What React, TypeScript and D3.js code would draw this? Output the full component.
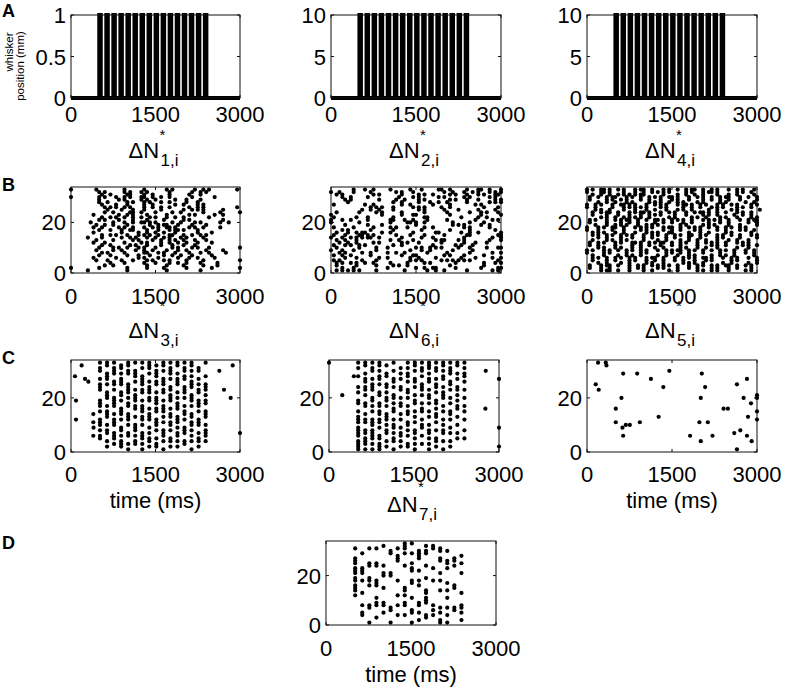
import React from 'react';
import * as d3 from 'd3';

// shared axes
const timeDomain = [0, 3000];
const timeTicks = [0, 1500, 3000];
const neuronDomain = [0, 34];
const neuronTicks = [0, 20];
const topNeuron = 33;

// whisker stimulus (row A)
const whiskerOnsets = [500, 625, 750, 875, 1000, 1125, 1250, 1375, 1500, 1625, 1750, 1875, 2000, 2125, 2250, 2375];
const pulseWidth = 30;
const whiskerMax = [1, 10, 10];
const whiskerTicks = [[0, 0.5, 1], [0, 5, 10], [0, 5, 10]];
const spikeLatency = 15;

// free rasters (row B): one string per neuron, 33 at top; one char per 50 ms bin
const gridStep = 50;
const rasterN3 = [
  'o........o.........o......o.......o.o.......o..o.o.........o',
  '..........o.o......o.o...o.o.......o.......o..o.o............',
  '...........o..o.....oo....o..o.....o......o...o..............',
  'o.........o.o...o..o.o...oo..o..o..o.......o.......o.........',
  '..........o......o.o.....o.o..o......o...o....o..............',
  '..........o..o......o.o...o.o...o..o.....o...o...............',
  '...........o....o...o.....o..o.......o..o....o.o.............',
  '............o.o.o..o.o....o..o..o..o......o..o.o...........o',
  '.............o....o...o...o.....o.......o..o.o.o......o......',
  '............o..o.....oo..o....o.....o..o.......o.....o......o',
  '........o........o..o.o....o......o.......o.o......o..o......',
  '...........o..o.o..o..o..o..o.o...o..o..o........o...........',
  '..........o.o....o....o....o.....o......o.o...........o......',
  '.......o.......o...o..o..oo.o.o.....o..o....o.o......o..o....',
  '.........o..o..o....o.......o..o.oo...o....o....o...........',
  '........o..o.....o.o..o...o..o.o..oo.o....o.o..o.....o......',
  '..........o...o...o..oo....o...o...o.oo.o....o..............',
  '........o.........o.....o..o..o..o...o.......o....o..........',
  '...........o..o.o...o...o.o.o..o...oo...o..o..o.o............',
  '......o....o......o..o.o...o..o..o.o...o.o.....o.............',
  '.........o.....o......o.o....o..o..o.o..o...o...o............',
  '........o...o......o.....o.o....o..o..o..o...o....o..........',
  '...........o..o......o.o...o....o...o...o...o................',
  '..........o....o.o..o...o.o...o.....o.o....o.o...o..........o',
  '.........o.....o..o....o..o..o....o...o..o......o.....o......',
  '...........o.o.....o......oo...o.o...o....o...o..o.....o.....',
  '..........o...o.....o...o...o....o..o..o...o......o..........',
  '........o.......o.......o.o....o......o...o..o.....o.........',
  '.........o...o....o...o....o.o...o.o.....o.....o............o',
  '..............o....o......o...o....o..o..o....o.....o........',
  '............o..o...........o......o.....o......o....o........',
  'o.........o.........o......o.....o.......o........o.........o',
  '......o.............o.............o...........o..............',
];
const rasterN6 = [
  '........o...o..o.....o......o...o.....oo..o.....o...oo..o...o',
  'o..o....o.....o........o.o...o..........o..o...o..o.o...o.o.o',
  '..o.o..........o.o.......o.....o.o..o.....o.o...o...o.o...oo',
  '....o..o.....o..........o....o.o......o.o......o.o......o.o.',
  '.....o.o.........o.....o..o....o.o........o.o...o...o.....o.o',
  '......o...............o..o.....o...o..o..o......o.......o.o.o',
  '.o..........o..o.........o..o.......o.....o........o.o.......',
  '..............o.o.o...o......o.o.o.....o..o...........o....o.',
  '...........o..o..o....o........o.o......o....o......o.....o..',
  '..o.......o.....o.o......o.......o.......o.......o...o.o...o.',
  'o.................o......o...oo...........o..........o......o',
  '.o.......o...o........o..........oo...........o.....o..o.....',
  'o...o..o.....o.......oo...o..o....o......o.........o.....o.o.',
  'o.........o..........o.....oo.o..o.........o.....o....o......',
  '.....o.......o....o...........o............o.o.o.....o..o....',
  '.o......o......o.....o.o...o.....o..o..........o.o......o....',
  '....o.o.......o.......o.........o.........o......o........o..',
  '..o...o..o.oo.....o..o.......o.......oo.......o..o..o.......o',
  '.o...o....oo.o.o.......o....o....o......o.......oo.........oo',
  'o...o..o.o.o.oo..o.......o......o...o..........o.........o..o',
  '..o..o...o...........o..o....o.......o.oo....o.o........o...o',
  '...o..o..o.....o.o.......o.o...o.......o.......o...o...o.....',
  '.o...o.o..o.o.........o..o..........o.......o.o...o..........',
  '..o.......o.....o...o.........o.o..o.o.o.....o...o.....o...oo',
  'o...o...o.......o...........o...o..o.......o......o..........',
  '...o.o.....o..o.....o..o..o.......o......o.......o.......o..o',
  '.o..o..o......o..........o...oo.........o.o....o......o......',
  '.....o...o.......o..o.......o..o.....o........o....o.....o..o',
  '.o.o.......o....o...........o.o.o......o.o.o.o.o.o.........o.',
  '..o.o..o.o..o..o.....o.....o.....o.o........o.........o...o.o',
  '..o......o......o.....o.o..o..............o...........o......',
  '....o...o...........o.........o..o..oo......o........o.....oo',
  '..o.o.o.o.o.....o.........o.......o..o..o.......o........o.o.',
];
const rasterN5 = [
  'o.o..oo.o..o.o...o.oo..o...o.o..o..o.oo..o..o.o...o..o.o...o.',
  'o....oo.o....o...o..o..o.o.o.o.....o.o...o.oo.o......o.o..o..',
  '..o..o..o..o.o.o.o.oo......o....o..o..o..o....o...o..o.....o.',
  '.o..o..o.oo...o.o..o..o.o.o..oo.o...o..o.o..o..o.oo...o..o..o',
  '.o.....o.o..o.o....o..o...o...o.o...o....o..o..o..o...o.....o',
  '....o..o..o...o.o.....o.o.o..o..o.o....o.o.....o.o......o..o.',
  'o..o.o...o..oo.o.o...o..o.o.o...o.oo.o..o.o...o.o..o.o....o.o',
  'o..o.....o...o.o.o.o.o....o.o.....o..o..o...o.o.o....o.o..o..',
  '...o.o..o....o...o...o..o...o...o.o..o.....o..o....o.o.......o',
  '..o..o.oo..o...o.o.oo.o...o..o.o...o..o.oo.o..o..o...o.o..o..',
  '..o....o...o...o...o..o.o.o....o...o.....o.o..o.....o..o..o..',
  '.....o.o..o..o.o.o.o..o......o.o.....o.o..o....o.o...o....o.o',
  '.o.o...o..o.o.oo..o..o..oo.o..o.o.o..o...o.o.o.o..o...o..o.oo',
  '.o.....o....o..o..o.....o..o..o...o..o.....o...o..o......o..o',
  '...o...o..o.o.o...o..o.o.o.......o.o.....o.o.o....o...o.....o',
  'o...o.o..oo..o...o.o.o.o...o.oo..o..o.o.o..o..o..o.o..o.o....',
  'o...o....o...o.....o.o.....o..o..o....o.o.....o..o....o.o..o.',
  '..o.o.o...o..o...o...o.o.o...oo.....o...o..o.....o.o......o..',
  '..o.o..o.o..o.o.o...o..o.o..o..o.o..oo..o.o...o.o..o..o...o.o',
  '....o..o....o...o...o..o....o..o....o...o.....o.o.....o.....o',
  '..o....o.o..o.o.....o....o..o....o..o..o..o...o...o..o...o...',
  '.o..o.o...o.o...oo.o..o.o.oo..o..o.o...o..o.o.o..o...o.o.o...',
  '.o..o.....o.....o..o..o...o...o..o.....o....o.o..o.....o.o..o',
  '....o.o...o.o...o..o....o..o.....o.o...o..o...o......o...o...',
  'o.o...o.o..o..o.o..o.o...o..o.o.oo..o.o..o..o..o.o..o...o..o.',
  'o.....o.o.....o....o.o......o.o..o..o....o.....o....o...o..o.',
  '..o...o....o..o.o..o.....o..o...o...o.o.....o..o.o..o......o.',
  '..o.o..o..o.o..o.o...o.oo..o...o..o.o.o..oo.o...o..o.o...o..o',
  '..o....o..o....o.o...o..o..o...o..o...o...o.o......o.o......o',
  '....o..o....o..o.....o.o...o......o.o.o..o......o..o.....o..o',
  '.o...o.oo..o...o..o.o..o.o.o.o..o...o..o.o..o.o..oo..o..o.o..',
  '.o...o..o......o..o.o....o.o....o...o..o....o.o...o..o....o..',
  '.....o.oo..o...o....o..o.....o..o......o.o..o.o...o.....o.o..',
];

// pulse-locked rasters (row C, first two): one string per whisker pulse, neuron 33 first
const lockedTime = [
  'x.xx..x.xxx...xxx.x..xxx.x.xx....',
  'xx..xxx.x..xxx..x.xxx..x.xx..x.x.',
  'x.xxx..xx.x..xxxx..x.xxx..xxx.x..',
  '.xx.x.xxx..xx.x..xxx.x..xx.x.xxx.',
  'xx.xx...xxxx.x.xx..xxx.x..xx..x.x',
  'x..xxx.x..x.xxx.xx..x..xxx.x.xx..',
  'x.x..xxxx.xx..x.xxx.xx.x..xxx.x.x',
  'xxx.x..x.xxx.xx..x.xxx..x.x.xx.x.',
  '.x.xxx.xx..x.xxx.xx..xxx.x..x.xx.',
  'xx.x..xxx.xx..x.xxx.x.x..xxx.x..x',
  'x.xxx.x..xx.xxx..x.xx.xx.x..xx.x.',
  'xx..x.xxx..x.x.xxx..xxx.x.xx.x.x.',
  'x.xx.xx..xxx.x..x.xx.x..xxx..xx..',
  'xx.x.x.xxx..xxx.x..xx.xx.x.x.x..x',
  '..xx..x.x.xx..xxx.x..xxx..x.xx.x.',
  'x....x..xxx.x.xx..xxx..x.xxx.x...',
];
const lockedTimeExtra = [
  [71, 28], [189, 32], [308, 26], [249, 27], [89, 19], [89, 12],
  [396, 14], [396, 11], [400, 9], [396, 6],
  [2633, 30], [2870, 32], [2716, 23], [2834, 20], [3000, 7],
];
const lockedN7 = [
  'x.x..x...x.x..xx..x.xxx.xxxx.xxxx',
  'xx..x.xx.xx.x..xx..x.xx..xx.xxx.x',
  'x.xx..x.xxx..xx.x.x..xxx.xxxx.x.x',
  'xx.x.xx.x..xx..xx.xx.xx.x..xx.xxx',
  '.x..xx..xx.x.xx.x..xxx.x.xx..x.x.',
  'x..x..xx.x..xx.x.xx..x.xx.x.xx..x',
  '..x.x.x..xx..x.xx..x.x..x.xx.x.x.',
  'x.x.xx.x..xx.x..x.xx..xx.x.x..xx.',
  'xx.x..xx.x..x.xx..x.x.x..xx.x.x.x',
  'x.xx.x..xxx.x..x.xx..x.xx..x..x..',
  'xxx.x.xx..x.xx.x..x.x..x.xx.x.x.x',
  'x.xx..x.xx.x..xx.x.xx.x..x..xx.x.',
  'xx.x.xx..x.xxx..x.x..x.x.xx..x..x',
  'x.xxx..xx.x..x.x..xx.x..x.x..x.x.',
  'xx..x.x..xx.x.x.xx..x..x..x.x....',
  'x.x.xx.x..x..x..x.x..x...x..x....',
];
const lockedN7Extra = [
  [0, 33], [234, 21], [439, 28], [2766, 30], [3000, 27], [2760, 16], [3000, 9], [3000, 2],
];

// sparse raster (row C, third): [time ms, neuron]
const sparseTime = [
  [195, 33], [331, 33], [343, 32], [638, 29], [886, 29], [1453, 30], [1128, 27],
  [154, 25], [207, 23], [1347, 24], [2026, 29], [2085, 24], [2008, 20], [2646, 25],
  [2823, 27], [2764, 20], [2894, 18], [3000, 21], [3000, 20], [3000, 15], [3000, 12],
  [2841, 13], [608, 20], [508, 16], [508, 11], [626, 9], [685, 10], [756, 10],
  [933, 11], [638, 6], [1264, 13], [1819, 6], [2008, 4], [1984, 11], [2132, 11],
  [2215, 6], [2410, 16], [2486, 16], [2599, 7], [2705, 8], [2823, 6], [2906, 4], [2646, 1],
];

// row D: neurons firing on each whisker pulse
const lockedD = [
  [31, 27, 26, 25, 23, 22, 21, 19, 18, 16, 15, 14, 12],
  [29, 23, 22, 21, 18, 13, 8, 5, 4],
  [31, 25, 24, 19, 18, 16, 8, 7, 1],
  [31, 25, 24, 18, 17, 16, 11, 9, 8, 3],
  [32, 24, 21, 20, 15, 9, 8, 5],
  [30, 29, 21, 20, 7, 6, 1],
  [31, 28, 27, 26, 18, 12, 8, 4],
  [33, 32, 31, 29, 24, 15, 14, 12, 9, 8, 4],
  [33, 29, 25, 23, 22, 18, 17, 11, 6, 5, 1],
  [30, 29, 28, 27, 22, 18, 16, 9, 8, 5, 2],
  [32, 30, 29, 24, 19, 14, 13, 11, 10, 9, 4, 3],
  [32, 31, 23, 18, 8, 6, 4],
  [31, 30, 27, 26, 21, 18, 14, 7, 5, 2, 1],
  [30, 26, 25, 23, 17, 14, 11, 7, 4, 1],
  [27, 26, 24, 16, 15, 7, 6],
  [28, 25, 21, 13, 8, 7, 5, 2],
];

const FONT = '"Liberation Sans", Arial, Helvetica, sans-serif';

const gridPoints = (rows) => {
  const pts = [];
  rows.forEach((r, i) => {
    for (let j = 0; j < r.length; j++) if (r[j] === 'o') pts.push([j * gridStep, topNeuron - i]);
  });
  return pts;
};

const pulseColumnPoints = (cols, extra) => {
  const pts = [];
  cols.forEach((c, k) => {
    for (let i = 0; i < c.length; i++) if (c[i] === 'x') pts.push([whiskerOnsets[k] + spikeLatency, topNeuron - i]);
  });
  return pts.concat(extra);
};

const pulseListPoints = (lists) => {
  const pts = [];
  lists.forEach((l, k) => l.forEach(n => pts.push([whiskerOnsets[k] + spikeLatency, n])));
  return pts;
};

const Frame = (props) => {
  const { x, y, w, h, yScale, yTicks, yFmt, tickBase } = props;
  const xScale = d3.scaleLinear().domain(timeDomain).range([x, x + w]);
  const tl = 3;
  return (
    <g>
      <rect x={x} y={y} width={w} height={h} fill="none" stroke="#111" strokeWidth={1} />
      {timeTicks.map(t => (
        <g key={'x' + t}>
          <line x1={xScale(t)} x2={xScale(t)} y1={y + h} y2={y + h - tl} stroke="#111" />
          <line x1={xScale(t)} x2={xScale(t)} y1={y} y2={y + tl} stroke="#111" />
          <text x={xScale(t)} y={tickBase} textAnchor="middle" fontSize={22}>{t}</text>
        </g>
      ))}
      {yTicks.map(v => (
        <g key={'y' + v}>
          <line x1={x} x2={x + tl} y1={yScale(v)} y2={yScale(v)} stroke="#111" />
          <line x1={x + w} x2={x + w - tl} y1={yScale(v)} y2={yScale(v)} stroke="#111" />
          <text x={x - 5} y={yScale(v) + 8} textAnchor="end" fontSize={22}>{yFmt(v)}</text>
        </g>
      ))}
    </g>
  );
};

const DeltaLabel = ({ cx, base, sub, starDy }) => {
  const left = cx - 27;
  return (
    <g>
      <text x={left} y={base} fontSize={22}>ΔN</text>
      <text x={left + 31} y={base + starDy} fontSize={15}>*</text>
      <text x={left + 32} y={base + 8} fontSize={17}>{sub}</text>
    </g>
  );
};

const TimeLabel = ({ cx, base }) => (
  <text x={cx} y={base} textAnchor="middle" fontSize={22}>time (ms)</text>
);

const WhiskerPanel = ({ x, y, w, h, idx, row }) => {
  const xScale = d3.scaleLinear().domain(timeDomain).range([x, x + w]);
  const yScale = d3.scaleLinear().domain([0, whiskerMax[idx]]).range([y + h, y]);
  const amp = whiskerMax[idx];
  const pts = [[0, 0]];
  whiskerOnsets.forEach(o => {
    pts.push([o, 0], [o, amp], [o + pulseWidth, amp], [o + pulseWidth, 0]);
  });
  pts.push([3000, 0]);
  const line = d3.line().x(d => xScale(d[0])).y(d => yScale(d[1]));
  return (
    <g>
      <path d={line(pts)} fill="#000" stroke="#000" strokeWidth={3.8} strokeLinejoin="miter" />
      <Frame x={x} y={y} w={w} h={h} yScale={yScale} yTicks={whiskerTicks[idx]}
        yFmt={v => String(v)} tickBase={row.tickBase} />
    </g>
  );
};

const RasterPanel = ({ x, y, w, h, points, row }) => {
  const xScale = d3.scaleLinear().domain(timeDomain).range([x, x + w]);
  const yScale = d3.scaleLinear().domain(neuronDomain).range([y + h, y]);
  return (
    <g>
      <Frame x={x} y={y} w={w} h={h} yScale={yScale} yTicks={neuronTicks}
        yFmt={v => String(v)} tickBase={row.tickBase} />
      {points.map((p, i) => (
        <circle key={i} cx={xScale(p[0])} cy={yScale(p[1])} r={2.1} fill="#000" />
      ))}
    </g>
  );
};

export default function App() {
  const rowA = { y: 15, h: 83, tickBase: 122, labelBase: 158, starDy: -18 };
  const rowB = { y: 187, h: 86, tickBase: 304, labelBase: 338, starDy: -27 };
  const rowC = { y: 360, h: 92, tickBase: 482, labelBase: 508, starDy: -20 };
  const rowD = { y: 541, h: 84, tickBase: 656, labelBase: 682 };
  const c1 = { x: 71, w: 169 };
  const c2 = { x: 331, w: 170 };
  const c3 = { x: 587, w: 170 };
  const c2c = { x: 329, w: 170 };
  const cD = { x: 326, w: 170 };
  const mid = c => c.x + c.w / 2;

  return (
    <svg width={787} height={690} style={{ position: 'absolute', left: 0, top: 0, background: '#fff' }}
      fontFamily={FONT} fill="#000">
      {/* row A */}
      <WhiskerPanel {...c1} y={rowA.y} h={rowA.h} idx={0} row={rowA} />
      <WhiskerPanel {...c2} y={rowA.y} h={rowA.h} idx={1} row={rowA} />
      <WhiskerPanel {...c3} y={rowA.y} h={rowA.h} idx={2} row={rowA} />
      <DeltaLabel cx={mid(c1)} base={rowA.labelBase} sub="1,i" starDy={rowA.starDy} />
      <DeltaLabel cx={mid(c2)} base={rowA.labelBase} sub="2,i" starDy={rowA.starDy} />
      <DeltaLabel cx={mid(c3)} base={rowA.labelBase} sub="4,i" starDy={rowA.starDy} />
      <g fontSize={11.5} textAnchor="middle">
        <text transform="translate(13,52) rotate(-90)">whisker</text>
        <text transform="translate(24,66) rotate(-90)">position (mm)</text>
      </g>

      {/* row B */}
      <RasterPanel {...c1} y={rowB.y} h={rowB.h} points={gridPoints(rasterN3)} row={rowB} />
      <RasterPanel {...c2} y={rowB.y} h={rowB.h} points={gridPoints(rasterN6)} row={rowB} />
      <RasterPanel {...c3} y={rowB.y} h={rowB.h} points={gridPoints(rasterN5)} row={rowB} />
      <DeltaLabel cx={mid(c1)} base={rowB.labelBase} sub="3,i" starDy={rowB.starDy} />
      <DeltaLabel cx={mid(c2)} base={rowB.labelBase} sub="6,i" starDy={rowB.starDy} />
      <DeltaLabel cx={mid(c3)} base={rowB.labelBase} sub="5,i" starDy={rowB.starDy} />

      {/* row C */}
      <RasterPanel {...c1} y={rowC.y} h={rowC.h} points={pulseColumnPoints(lockedTime, lockedTimeExtra)} row={rowC} />
      <RasterPanel {...c2c} y={rowC.y} h={rowC.h} points={pulseColumnPoints(lockedN7, lockedN7Extra)} row={rowC} />
      <RasterPanel {...c3} y={rowC.y} h={rowC.h} points={sparseTime} row={rowC} />
      <TimeLabel cx={mid(c1)} base={rowC.labelBase} />
      <DeltaLabel cx={mid(c2c)} base={rowC.labelBase + 4} sub="7,i" starDy={rowC.starDy} />
      <TimeLabel cx={mid(c3)} base={rowC.labelBase} />

      {/* row D */}
      <RasterPanel {...cD} y={rowD.y} h={rowD.h} points={pulseListPoints(lockedD)} row={rowD} />
      <TimeLabel cx={mid(cD)} base={rowD.labelBase} />

      {/* panel letters */}
      <g fontSize={18} fontWeight="bold">
        <text x={2} y={17}>A</text>
        <text x={2} y={191}>B</text>
        <text x={2} y={364}>C</text>
        <text x={2} y={549}>D</text>
      </g>
    </svg>
  );
}
